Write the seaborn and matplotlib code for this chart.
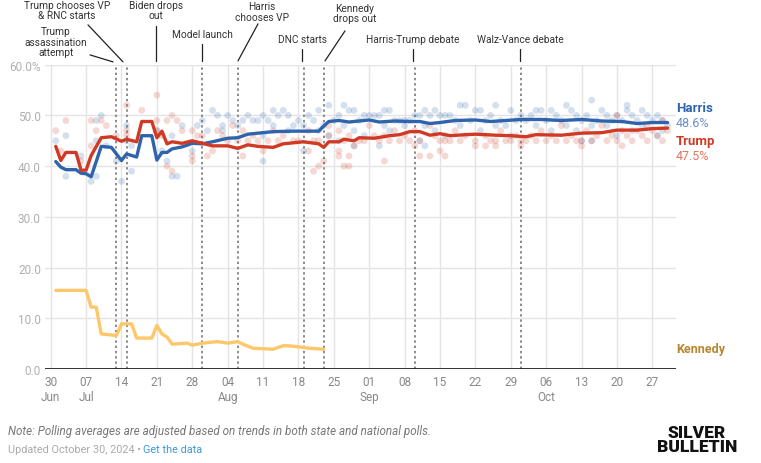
import pandas as pd
import matplotlib.pyplot as plt
import seaborn as sns

# Polling averages, days counted from 30 Jun 2024
harris_days = [1, 2, 3, 5, 6, 7, 8, 10, 12, 14, 15, 17, 18, 20, 21, 22, 23, 24, 26, 28,
               30, 32, 35, 37, 39, 41, 44, 48, 53, 54, 55, 57, 59, 63, 65, 68, 71, 73, 75, 77,
               80, 84, 87, 93, 97, 101, 105, 109, 113, 116, 119, 122]
harris_avg = [40.9, 39.8, 39.3, 39.3, 38.6, 38.5, 37.9, 43.9, 43.7, 41.1, 42.4, 41.8, 46.0, 46.0,
              41.2, 42.7, 42.7, 43.4, 43.8, 44.5, 44.4, 44.8, 45.5, 45.6, 46.3, 46.5, 46.8, 46.9,
              46.9, 47.9, 48.8, 49.0, 48.7, 49.1, 48.7, 48.9, 48.8, 48.8, 48.4, 48.6, 49.0, 49.1,
              48.8, 49.2, 49.2, 49.0, 49.2, 48.9, 48.8, 48.4, 48.6, 48.6]

trump_days = [1, 2, 3, 5, 6, 7, 8, 10, 12, 14, 15, 17, 18, 20, 21, 22, 23, 24, 26, 28,
              30, 32, 35, 37, 39, 41, 44, 46, 50, 53, 54, 55, 57, 58, 60, 61, 64, 67, 69, 71,
              73, 75, 77, 79, 82, 84, 88, 91, 94, 96, 101, 105, 109, 112, 116, 119, 122]
trump_avg = [43.9, 41.1, 42.7, 42.7, 39.2, 39.2, 42.1, 45.6, 45.8, 44.9, 45.3, 44.8, 48.8, 48.8,
             45.6, 46.9, 44.4, 44.8, 44.5, 45.0, 44.5, 44.0, 44.0, 43.5, 44.2, 43.9, 43.7, 44.4,
             44.8, 44.4, 43.7, 44.8, 44.8, 45.3, 45.0, 45.6, 45.5, 46.0, 46.2, 46.8, 46.8, 46.1,
             46.4, 46.0, 46.2, 46.3, 46.1, 46.0, 45.8, 46.2, 46.1, 46.5, 46.6, 47.1, 47.1, 47.4,
             47.5]

kennedy_days = [1, 7, 8, 9, 10, 13, 14, 16, 17, 20, 21, 22, 23, 24, 27, 28, 30, 33, 35, 37,
                38, 40, 44, 46, 48, 51, 54]
kennedy_avg = [15.5, 15.5, 12.2, 12.2, 6.9, 6.6, 8.9, 8.9, 6.1, 6.1, 8.6, 6.9, 6.3, 4.9, 5.1,
               4.7, 5.1, 5.4, 5.1, 5.4, 4.9, 4.1, 3.9, 4.6, 4.5, 4.1, 3.9]

# Individual polls: result -> days on which a poll showed it
harris_polls = {
    53: [107],
    52: [55, 58, 81, 82, 88, 102, 114],
    51: [32, 44, 46, 53, 59, 60, 66, 67, 74, 76, 84, 85, 91, 96, 97, 99, 103, 109, 114, 117],
    50: [10, 33, 35, 39, 42, 45, 47, 51, 57, 62, 63, 64, 65, 72, 73, 75, 77, 78, 79, 87, 93,
         95, 100, 104, 106, 110, 112, 115, 118, 120],
    49: [9, 30, 36, 38, 40, 41, 43, 49, 52, 56, 61, 68, 69, 70, 71, 80, 83, 86, 89, 92, 94,
         98, 101, 105, 108, 111, 113, 116, 119, 121],
    48: [15, 26, 29, 34, 37, 44, 48, 50, 54, 58, 66, 70, 74, 81, 88, 90, 96, 102, 107, 110,
         117, 122],
    47: [21, 31, 34, 47, 53, 60, 67, 76, 85, 99, 104, 115, 121],
    46: [3, 24, 42, 55, 62, 78, 91, 112, 120],
    45: [1, 9, 15, 57, 73, 105, 107],
    44: [11, 16, 60, 65, 74],
    43: [22, 28, 50],
    42: [6],
    41: [13, 23, 42],
    39: [16],
    38: [3, 9, 24, 25],
    37: [8, 14],
}
trump_polls = {
    54: [21],
    52: [15],
    51: [18],
    50: [24, 112],
    49: [3, 8, 10, 21, 23, 25, 121],
    48: [11, 36, 55, 63, 75, 101, 109, 118],
    47: [1, 9, 15, 21, 26, 28, 33, 38, 44, 51, 57, 68, 72, 80, 89, 97, 106, 113, 116, 119, 122],
    46: [13, 15, 22, 29, 30, 34, 40, 46, 55, 59, 64, 66, 70, 76, 82, 86, 92, 95, 99, 103, 108,
         111, 114, 117, 120],
    45: [35, 37, 39, 41, 43, 45, 48, 49, 52, 53, 58, 61, 62, 65, 67, 69, 71, 73, 77, 78, 79,
         81, 84, 87, 88, 90, 91, 93, 94, 96, 98, 100, 102, 104, 105, 107, 110, 112, 115, 118, 121],
    44: [8, 60, 72, 84, 86, 88, 93, 105, 113],
    43: [2, 32, 42, 51, 57, 77],
    42: [28, 31, 38, 57, 59, 73, 75, 78],
    41: [6, 28, 54, 66],
    40: [23, 53, 58, 59],
    39: [24, 52],
}

tick_days = [0, 7, 14, 21, 28, 35, 42, 49, 56, 63, 70, 77, 84, 91, 98, 105, 112, 119]
tick_labels = ["30\nJun", "07\nJul", "14", "21", "28", "04\nAug", "11", "18", "25", "01\nSep",
               "08", "15", "22", "29", "06\nOct", "13", "20", "27"]
y_ticks = [0, 10, 20, 30, 40, 50, 60]
y_labels = ["0.0", "10.0", "20.0", "30.0", "40.0", "50.0", "60.0%"]

event_days = [13, 15, 30, 37, 50, 54, 72, 93]

BLUE = "#2f64ad"
RED = "#d03a24"
GOLD = "#fdc76a"

sns.set_theme(style="white")
plt.rcParams["font.family"] = ["Roboto", "DejaVu Sans"]

avg = pd.concat([
    pd.DataFrame({"day": harris_days, "pct": harris_avg, "cand": "Harris"}),
    pd.DataFrame({"day": trump_days, "pct": trump_avg, "cand": "Trump"}),
    pd.DataFrame({"day": kennedy_days, "pct": kennedy_avg, "cand": "Kennedy"}),
])
rows = []
for cand, polls in [("Harris", harris_polls), ("Trump", trump_polls)]:
    for val, days in polls.items():
        for d in days:
            rows.append({"day": d, "pct": val, "cand": cand})
polls_df = pd.DataFrame(rows)
palette = {"Harris": BLUE, "Trump": RED, "Kennedy": GOLD}

fig = plt.figure(figsize=(7.61, 4.64), dpi=100)
ax = fig.add_axes([45 / 761, 94 / 464, 631 / 761, 304.3 / 464])

def px_to_day(px):
    return (px - 50.7) / 5.056

def py_to_val(py):
    return (370 - py) / 5.07

# grid
for d in tick_days:
    ax.axvline(d, color="#e4e4e4", lw=1, zorder=0)
for v in y_ticks[1:]:
    ax.axhline(v, color="#e4e4e4", lw=1, zorder=0)
for d in event_days:
    ax.plot([d, d], [0, 60], color="#8a8a8a", lw=1.4, ls=(0, (1.2, 1.5)), zorder=1)

sns.scatterplot(data=polls_df, x="day", y="pct", hue="cand", palette=palette, s=24,
                alpha=0.2, edgecolor="none", legend=False, ax=ax, zorder=2)
sns.lineplot(data=avg, x="day", y="pct", hue="cand", palette=palette, lw=2.4,
             legend=False, ax=ax, zorder=3)

ax.axhline(0, color="#222222", lw=1.3, zorder=4)
ax.set_xlim(px_to_day(45), px_to_day(676))
ax.set_ylim(0, 60)
ax.set_xticks(tick_days)
ax.set_xticklabels(tick_labels, color="#888888", fontsize=8.5, linespacing=1.25)
ax.set_yticks(y_ticks)
ax.set_yticklabels(y_labels, color="#b0b0b0", fontsize=8.5)
ax.tick_params(axis="x", length=0, pad=4)
ax.tick_params(axis="y", length=0, pad=3)
ax.set_xlabel("")
ax.set_ylabel("")
for s in ax.spines.values():
    s.set_visible(False)

# event annotations
labels = [
    ("Trump\nassassination\nattempt", 56, 43, [(90, 56), (113, 63)]),
    ("Trump chooses VP\n& RNC starts", 67, 11, [(88, 26), (123, 63)]),
    ("Biden drops\nout", 156, 11, [(156, 27), (156, 62)]),
    ("Model launch", 202, 35, [(202, 45), (202, 62)]),
    ("Harris\nchooses VP", 262, 12.5, [(258, 25), (238, 62)]),
    ("DNC starts", 302, 40, [(302, 50), (302, 62)]),
    ("Kennedy\ndrops out", 355, 14, [(345, 32), (325, 62)]),
    ("Harris-Trump debate", 413, 40, [(413, 50), (413, 62)]),
    ("Walz-Vance debate", 520, 40, [(520, 50), (520, 62)]),
]
for text, cx, cy, line in labels:
    ax.text(px_to_day(cx), py_to_val(cy), text, ha="center", va="center", fontsize=7.3,
            color="#333333", linespacing=1.05, clip_on=False)
    ax.plot([px_to_day(line[0][0]), px_to_day(line[1][0])],
            [py_to_val(line[0][1]), py_to_val(line[1][1])],
            color="#222222", lw=0.9, clip_on=False)

# end labels
fig.text(676 / 761, 1 - 109 / 464, "Harris", color=BLUE, fontsize=9.5, fontweight="bold", va="center")
fig.text(676 / 761, 1 - 124 / 464, "48.6%", color="#6a8fcc", fontsize=9, va="center")
fig.text(676 / 761, 1 - 142 / 464, "Trump", color=RED, fontsize=9.5, fontweight="bold", va="center")
fig.text(676 / 761, 1 - 157 / 464, "47.5%", color="#e5735f", fontsize=9, va="center")
fig.text(676 / 761, 1 - 349 / 464, "Kennedy", color="#b8862f", fontsize=9, fontweight="bold", va="center")

# footer
fig.text(8 / 761, 1 - 432 / 464,
         "Note: Polling averages are adjusted based on trends in both state and national polls.",
         color="#777777", fontsize=8.4, style="italic", va="center")
fig.text(8 / 761, 1 - 450 / 464, "Updated October 30, 2024 \u2022", color="#aaaaaa",
         fontsize=7.8, va="center")
fig.text(143 / 761, 1 - 450 / 464, "Get the data", color="#3a9ad9", fontsize=7.8, va="center")
fig.text(697 / 761, 1 - 440 / 464, "SILVER\nBULLETIN", color="#111111", fontsize=12.5,
         fontweight="heavy", ha="center", va="center", linespacing=0.85)

fig.savefig("out.png", dpi=100)
